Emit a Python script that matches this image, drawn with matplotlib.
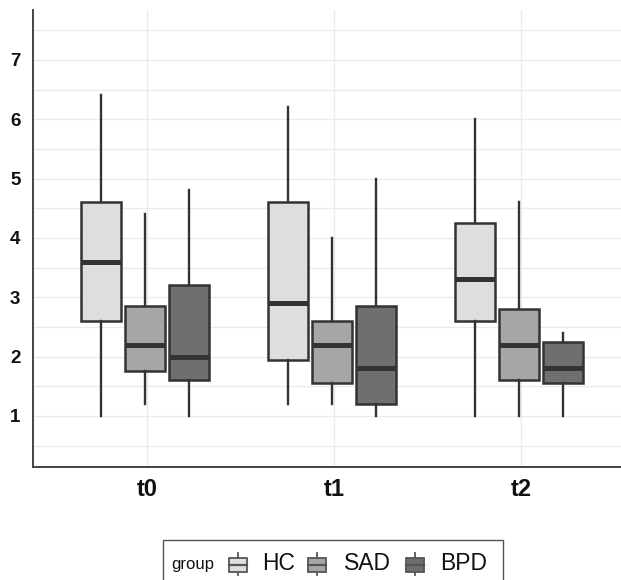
import matplotlib
matplotlib.use("Agg")
import matplotlib.pyplot as plt
from matplotlib.patches import Rectangle
from matplotlib.lines import Line2D

plt.rcParams['font.family'] = ['Liberation Sans', 'DejaVu Sans']

# ---- data ----
timepoints = ["t0", "t1", "t2"]
groups = ["HC", "SAD", "BPD"]
colors = ["#dedede", "#a6a6a6", "#6f6f6f"]

# per group: values for t0, t1, t2
whisker_low = {"HC": [1.0, 1.2, 1.0], "SAD": [1.2, 1.2, 1.0], "BPD": [1.0, 1.0, 1.0]}
q1          = {"HC": [2.6, 1.95, 2.6], "SAD": [1.75, 1.55, 1.6], "BPD": [1.6, 1.2, 1.55]}
median      = {"HC": [3.6, 2.9, 3.3], "SAD": [2.2, 2.2, 2.2], "BPD": [2.0, 1.8, 1.8]}
q3          = {"HC": [4.6, 4.6, 4.25], "SAD": [2.85, 2.6, 2.8], "BPD": [3.2, 2.85, 2.25]}
whisker_high = {"HC": [6.4, 6.2, 6.0], "SAD": [4.4, 4.0, 4.6], "BPD": [4.8, 5.0, 2.4]}

y_ticks = [1, 2, 3, 4, 5, 6, 7]

# ---- figure ----
W, H = 621, 580
fig = plt.figure(figsize=(W / 100, H / 100), dpi=100)
ax = fig.add_axes([33 / W, (H - 467) / H, 588 / W, 457 / H])

edge = "#333333"
offsets = [-0.245, -0.01, 0.225]
width = 0.215
base = [1, 2, 3]

for gi, g in enumerate(groups):
    stats = []
    for ti in range(len(timepoints)):
        stats.append(dict(med=median[g][ti], q1=q1[g][ti], q3=q3[g][ti],
                          whislo=whisker_low[g][ti], whishi=whisker_high[g][ti],
                          fliers=[]))
    pos = [b + offsets[gi] for b in base]
    ax.bxp(stats, positions=pos, widths=width, patch_artist=True, showcaps=False,
           showfliers=False,
           boxprops=dict(facecolor=colors[gi], edgecolor=edge, linewidth=1.8),
           medianprops=dict(color=edge, linewidth=3.6, solid_capstyle='butt'),
           whiskerprops=dict(color=edge, linewidth=1.7),
           zorder=3)

ax.set_xlim(0.39, 3.535)
ax.set_ylim(0.14, 7.84)
ax.set_xticks(base)
ax.set_xticklabels(timepoints, fontsize=17, fontweight='bold', color='#111111')
ax.set_yticks(y_ticks)
ax.set_yticklabels([str(v) for v in y_ticks], fontsize=13.5, fontweight='bold', color='#111111')
ax.set_yticks([v + 0.5 for v in [0] + y_ticks], minor=True)
ax.tick_params(axis='both', which='both', length=0)
ax.tick_params(axis='y', pad=9)
ax.tick_params(axis='x', pad=8)
ax.grid(True, which='both', axis='y', color='#ebebeb', linewidth=1.0, zorder=0)
ax.grid(True, which='major', axis='x', color='#ebebeb', linewidth=1.0, zorder=0)
ax.set_axisbelow(True)
for s in ['top', 'right']:
    ax.spines[s].set_visible(False)
for s in ['left', 'bottom']:
    ax.spines[s].set_color('#444444')
    ax.spines[s].set_linewidth(1.4)

# ---- legend (manual, pixel coordinates) ----
lg = fig.add_axes([0, 0, 1, 1], zorder=10)
lg.set_xlim(0, W)
lg.set_ylim(H, 0)
lg.axis('off')
lg.add_patch(Rectangle((163, 540), 340, 60, facecolor='white', edgecolor='#555555', linewidth=1.0))
lg.text(171, 565, "group", fontsize=12, va='center', ha='left', color='#111111')
glyph_x = [238, 317, 415]
text_x = [262, 344, 440]
for gi, g in enumerate(groups):
    gx = glyph_x[gi]
    lg.add_line(Line2D([gx, gx], [553, 575], color='#555555', linewidth=1.3, zorder=1))
    lg.add_patch(Rectangle((gx - 9, 557.5), 18, 14, facecolor=colors[gi], edgecolor='#555555',
                           linewidth=1.3, zorder=2))
    lg.add_line(Line2D([gx - 9, gx + 9], [564.5, 564.5], color='#555555', linewidth=1.6, zorder=3))
    lg.text(text_x[gi], 564, g, fontsize=16.5, va='center', ha='left', color='#111111')

fig.savefig("out.png", dpi=100)
